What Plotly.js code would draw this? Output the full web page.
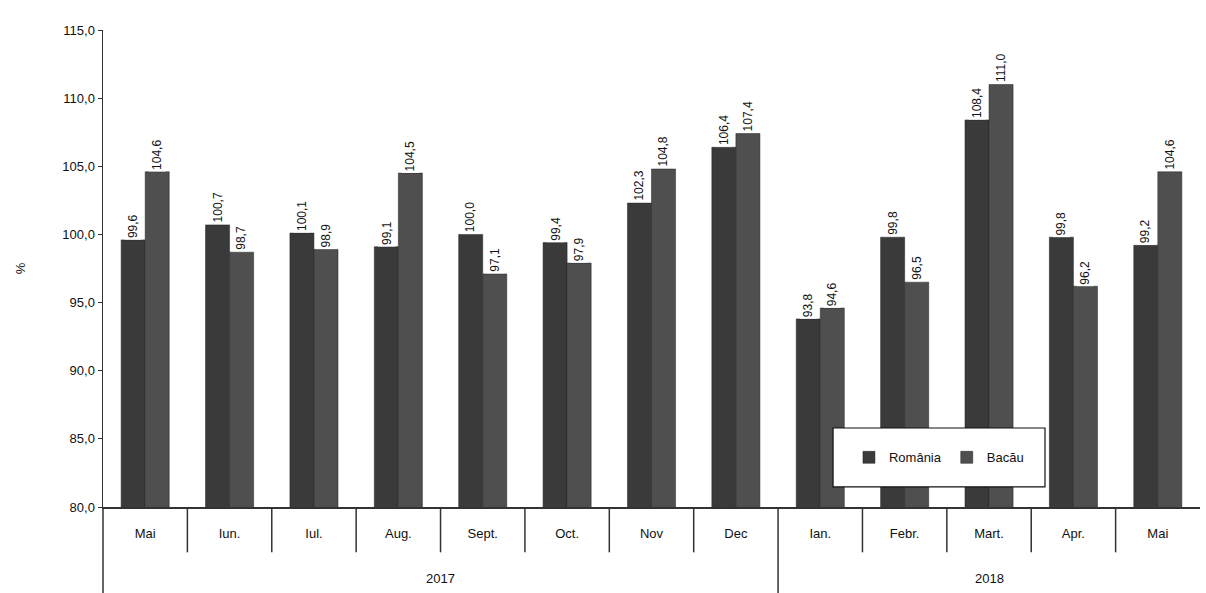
<!DOCTYPE html>
<html>
<head>
<meta charset="utf-8">
<script src="https://cdn.plot.ly/plotly-3.0.1.min.js"></script>
<style>html,body{margin:0;padding:0;background:#fff;}#chart{width:1206px;height:593px;}</style>
</head>
<body>
<div id="chart"></div>
<script>
const months = ['Mai','Iun.','Iul.','Aug.','Sept.','Oct.','Nov','Dec','Ian.','Febr.','Mart.','Apr.','Mai'];
const years = ['2017','2017','2017','2017','2017','2017','2017','2017','2018','2018','2018','2018','2018'];
const romania = [99.6, 100.7, 100.1, 99.1, 100.0, 99.4, 102.3, 106.4, 93.8, 99.8, 108.4, 99.8, 99.2];
const bacau = [104.6, 98.7, 98.9, 104.5, 97.1, 97.9, 104.8, 107.4, 94.6, 96.5, 111.0, 96.2, 104.6];
const seriesNames = ['România', 'Bacău'];

const fmt = v => v.toFixed(1).replace('.', ',');
const idx = months.map((_, i) => i);
const FONT = 'Arial, Liberation Sans, sans-serif';

const traces = [
  {type:'bar', name:seriesNames[0], x:idx, y:romania, marker:{color:'#3a3a3a', line:{color:'#222', width:0.5}}},
  {type:'bar', name:seriesNames[1], x:idx, y:bacau, marker:{color:'#4f4f4f', line:{color:'#222', width:0.5}}}
];

const annotations = [];
[romania, bacau].forEach((arr, s) => {
  arr.forEach((v, i) => {
    annotations.push({
      x: i, y: v, xref:'x', yref:'y', text: fmt(v), showarrow:false,
      textangle: -90, xanchor:'center', yanchor:'bottom', xshift: s === 0 ? -12 : 12,
      bgcolor:'#fff', font:{family:FONT, size:12, color:'#111'}, borderpad:1
    });
  });
});

// year labels centred under their month groups
const yearList = [...new Set(years)];
yearList.forEach(yr => {
  const ids = idx.filter(i => years[i] === yr);
  const c = (ids[0] + ids[ids.length - 1]) / 2;
  annotations.push({x:c, y:-0.15, xref:'x', yref:'paper', text:yr, showarrow:false,
    xanchor:'center', yanchor:'middle', font:{family:FONT, size:13, color:'#111'}});
});

const shapes = [];
for (let i = 0; i < months.length - 1; i++) {
  const yearBreak = years[i] !== years[i + 1];
  shapes.push({type:'line', xref:'x', yref:'paper', x0:i + 0.5, x1:i + 0.5, y0:0, y1: yearBreak ? -0.19 : -0.095,
    line:{color:'#333', width:1.5}});
}
shapes.push({type:'line', xref:'paper', yref:'paper', x0:0, x1:0, y0:0, y1:-0.19, line:{color:'#333', width:1.5}});
// legend frame
shapes.push({type:'rect', xref:'paper', yref:'paper', x0:0.6655, x1:0.8587, y0:0.042, y1:0.1656,
  fillcolor:'#fff', line:{color:'#111', width:1.2}, layer:'above'});

const layout = {
  width:1206, height:593,
  margin:{l:103, r:6, t:30, b:86},
  paper_bgcolor:'#fff', plot_bgcolor:'#fff',
  separators:',.',
  barmode:'group', bargap:0.43, bargroupgap:0,
  font:{family:FONT, size:12, color:'#111'},
  xaxis:{
    range:[-0.5, months.length - 0.5], tickvals:idx, ticktext:months,
    showline:true, linecolor:'#333', linewidth:1.5, ticks:'', ticklabelstandoff:14,
    tickfont:{size:13, color:'#111'}, showgrid:false, zeroline:false
  },
  yaxis:{
    range:[80,115], dtick:5, tickformat:'.1f', showline:true, linecolor:'#333', linewidth:1.5,
    ticks:'outside', ticklen:4, tickcolor:'#333', showgrid:false, zeroline:false,
    tickfont:{size:13, color:'#111'},
    title:{text:'%', font:{size:13}, standoff:34}
  },
  legend:{
    orientation:'h', x:0.68, y:0.104, xanchor:'left', yanchor:'middle',
    bgcolor:'rgba(0,0,0,0)', borderwidth:0,
    font:{size:13, color:'#111'}, itemwidth:30
  },
  annotations: annotations,
  shapes: shapes
};

Plotly.newPlot('chart', traces, layout, {displayModeBar:false, staticPlot:true});
</script>
</body>
</html>
